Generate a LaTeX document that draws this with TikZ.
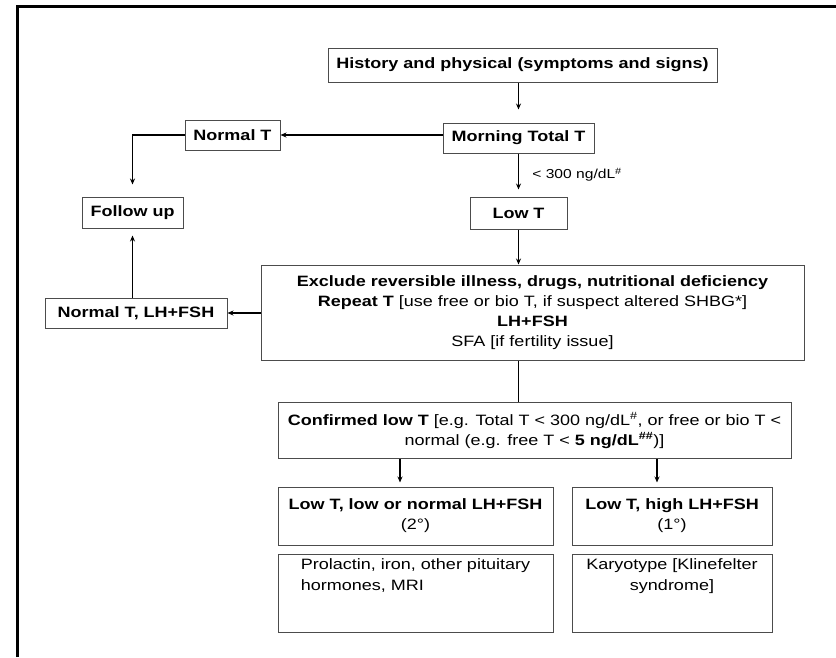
\documentclass[tikz,border=0pt]{standalone}
\usepackage{fontspec}
\setmainfont{Liberation Sans}[FakeStretch=1.2]
\usetikzlibrary{arrows.meta, positioning, calc}

\begin{document}
\begin{tikzpicture}[
    x=1pt, y=-1pt,
    >={Stealth[length=6pt,width=5pt]},
    box/.style={
      rectangle,
      draw=black!70,
      line width=1pt,
      inner sep=2pt,
      align=center,
      font=\fontsize{15}{20}\selectfont
    },
    note/.style={font=\fontsize{15}{21}\selectfont, inner sep=2pt},
    flow/.style={->, line width=1.1pt}
]
\useasboundingbox (0,0) rectangle (836,657);

% bingkai kiri dan atas
\draw[line width=3pt] (17,657) -- (17,6) -- (836,6);

% kotak utama
\node[box, minimum width=389pt, minimum height=34pt] (hist) at (522.5,65) {\textbf{History and physical (symptoms and signs)}};
\node[box, minimum width=151pt, minimum height=30pt] (morn) at (518.5,138) {\textbf{Morning Total T}};
\node[box, minimum width=95pt, minimum height=30pt] (normal) at (232.5,135) {\textbf{Normal T}};
\node[box, minimum width=101pt, minimum height=31pt] (follow) at (132.5,212.5) {\textbf{Follow up}};
\node[box, minimum width=97pt, minimum height=32pt] (low) at (518.5,213) {\textbf{Low T}};

\node[box, minimum width=543pt, minimum height=95pt] (excl) at (532.5,312.5)
  {\textbf{Exclude reversible illness, drugs, nutritional deficiency}\\
   \textbf{Repeat T} [use free or bio T, if suspect altered SHBG*]\\
   \textbf{LH+FSH}\\
   SFA [if fertility issue]};
\node[box, minimum width=182pt, minimum height=30pt] (nlh) at (136,313) {\textbf{Normal T, LH+FSH}};

\node[box, minimum width=513pt, minimum height=56pt] (conf) at (534.5,430.5)
  {\textbf{Confirmed low T} [e.g. Total T < 300 ng/dL\textsuperscript{\#}, or free or bio T <\\
   normal (e.g. free T < \textbf{5 ng/dL\textsuperscript{\#\#}})]};

\node[box, minimum width=275pt, minimum height=58pt] (lowlh) at (415.5,516) {\textbf{Low T, low or normal LH+FSH}\\(2°)};
\node[box, minimum width=200pt, minimum height=58pt] (lowhi) at (672,516) {\textbf{Low T, high LH+FSH}\\(1°)};

\node[box, minimum width=275pt, minimum height=78pt] (prl) at (415.5,593) {};
\node[box, minimum width=200pt, minimum height=78pt] (kary) at (672,593) {};
\node[note, align=left, anchor=north] (prltxt) at ([yshift=-3pt]prl.north) {Prolactin, iron, other pituitary\\hormones, MRI};
\node[note, align=center, anchor=north] (karytxt) at ([yshift=-3pt]kary.north) {Karyotype [Klinefelter\\syndrome]};

% panah
\draw[flow, shorten >=13pt] (hist.south -| morn.north) -- (morn.north);
\draw[flow, line width=1.6pt] (morn.west |- normal.east) -- (normal.east);
\draw[flow, line width=1.4pt, shorten >=12pt] (normal.west) -| (follow.north);
\draw[flow, shorten >=7pt] (morn.south) -- (low.north)
  node[midway, right, xshift=10pt, font=\fontsize{13}{15}\selectfont]{< 300 ng/dL\textsuperscript{\#}};
\draw[flow] (low.south) -- (low.south |- excl.north);
\draw[flow] (excl.west |- nlh.east) -- (nlh.east);
\draw[flow, line width=0.8pt, shorten >=7pt] (nlh.north -| follow.south) -- (follow.south);
\draw[line width=1.1pt] (excl.south -| low.south) -- (conf.north -| low.south);
\draw[flow, shorten >=4pt] ([xshift=-15.5pt]lowlh.north |- conf.south) -- ([xshift=-15.5pt]lowlh.north);
\draw[flow, shorten >=4pt] ([xshift=-15pt]lowhi.north |- conf.south) -- ([xshift=-15pt]lowhi.north);

\end{tikzpicture}
\end{document}
